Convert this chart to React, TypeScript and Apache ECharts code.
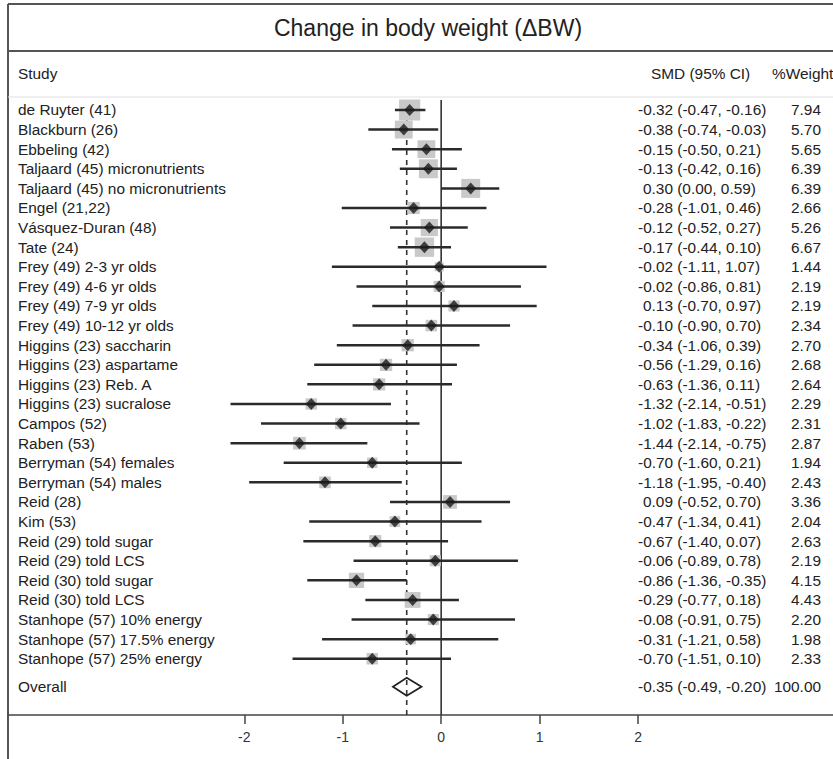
import React, { useEffect, useRef } from "react";
import * as echarts from "echarts";

const titleText = "Change in body weight (ΔBW)";
const headerStudy = "Study";
const headerSmd = "SMD (95% CI)";
const headerWeight = "%Weight";

const studyNames = [
  "de Ruyter (41)",
  "Blackburn (26)",
  "Ebbeling (42)",
  "Taljaard (45) micronutrients",
  "Taljaard (45) no micronutrients",
  "Engel (21,22)",
  "Vásquez-Duran (48)",
  "Tate (24)",
  "Frey (49) 2-3 yr olds",
  "Frey (49) 4-6 yr olds",
  "Frey (49) 7-9 yr olds",
  "Frey (49) 10-12 yr olds",
  "Higgins (23) saccharin",
  "Higgins (23) aspartame",
  "Higgins (23) Reb. A",
  "Higgins (23) sucralose",
  "Campos (52)",
  "Raben (53)",
  "Berryman (54) females",
  "Berryman (54) males",
  "Reid (28)",
  "Kim (53)",
  "Reid (29) told sugar",
  "Reid (29) told LCS",
  "Reid (30) told sugar",
  "Reid (30) told LCS",
  "Stanhope (57) 10% energy",
  "Stanhope (57) 17.5% energy",
  "Stanhope (57) 25% energy",
];
const smd = [
  -0.32, -0.38, -0.15, -0.13, 0.3, -0.28, -0.12, -0.17, -0.02, -0.02, 0.13, -0.1,
  -0.34, -0.56, -0.63, -1.32, -1.02, -1.44, -0.7, -1.18, 0.09, -0.47, -0.67, -0.06,
  -0.86, -0.29, -0.08, -0.31, -0.7,
];
const ciLow = [
  -0.47, -0.74, -0.5, -0.42, 0.0, -1.01, -0.52, -0.44, -1.11, -0.86, -0.7, -0.9,
  -1.06, -1.29, -1.36, -2.14, -1.83, -2.14, -1.6, -1.95, -0.52, -1.34, -1.4, -0.89,
  -1.36, -0.77, -0.91, -1.21, -1.51,
];
const ciHigh = [
  -0.16, -0.03, 0.21, 0.16, 0.59, 0.46, 0.27, 0.1, 1.07, 0.81, 0.97, 0.7,
  0.39, 0.16, 0.11, -0.51, -0.22, -0.75, 0.21, -0.4, 0.7, 0.41, 0.07, 0.78,
  -0.35, 0.18, 0.75, 0.58, 0.1,
];
const weights = [
  7.94, 5.7, 5.65, 6.39, 6.39, 2.66, 5.26, 6.67, 1.44, 2.19, 2.19, 2.34,
  2.7, 2.68, 2.64, 2.29, 2.31, 2.87, 1.94, 2.43, 3.36, 2.04, 2.63, 2.19,
  4.15, 4.43, 2.2, 1.98, 2.33,
];
const overallLabel = "Overall";
const overallSmd = -0.35;
const overallLow = -0.49;
const overallHigh = -0.2;
const overallWeight = 100.0;
const tickValues = [-2, -1, 0, 1, 2];

const FONT = "'Liberation Sans', Arial, Helvetica, sans-serif";
const ROW_FONT = 15.4;
const OVERALL_ROW = 29.43;
const Y_MIN = -0.51;
const Y_MAX = 30.87;

const fmt = (v: number) => v.toFixed(2);

export default function App() {
  const ref = useRef<HTMLDivElement>(null);

  useEffect(() => {
    if (!ref.current) return;
    const chart = echarts.init(ref.current, null, { renderer: "svg" });

    const rows = studyNames.map((n, i) => [smd[i], i, weights[i], ciLow[i], ciHigh[i]]);
    const textRows = studyNames.map((n, i) => ({
      value: [0, i],
      name: n,
      ci: `${fmt(smd[i])} (${fmt(ciLow[i])}, ${fmt(ciHigh[i])})`,
      pos: smd[i] >= 0,
      w: fmt(weights[i]),
    }));
    textRows.push({
      value: [0, OVERALL_ROW],
      name: overallLabel,
      ci: `${fmt(overallSmd)} (${fmt(overallLow)}, ${fmt(overallHigh)})`,
      pos: overallSmd >= 0,
      w: fmt(overallWeight),
    });

    const textEl = (text: string, x: number, y: number, align: string) => ({
      type: "text",
      style: {
        text,
        x,
        y,
        fill: "#222",
        fontSize: ROW_FONT,
        fontFamily: FONT,
        align,
        verticalAlign: "middle",
      },
    });

    chart.setOption({
      animation: false,
      backgroundColor: "#fff",
      grid: { left: 8, right: 0, top: 100, bottom: 44, containLabel: false },
      xAxis: {
        type: "value",
        min: -4.4,
        max: 3.98,
        axisLine: { show: true, onZero: false, lineStyle: { color: "#444", width: 1.5 } },
        axisTick: {
          show: true,
          customValues: tickValues,
          length: 9,
          lineStyle: { color: "#444", width: 1.5 },
        },
        axisLabel: {
          show: true,
          customValues: tickValues,
          color: "#333",
          fontSize: 14,
          fontFamily: FONT,
          margin: 15,
        },
        splitLine: { show: false },
      },
      yAxis: {
        type: "value",
        inverse: true,
        min: Y_MIN,
        max: Y_MAX,
        show: false,
        splitLine: { show: false },
      },
      graphic: [
        { type: "line", shape: { x1: 8, y1: 4, x2: 833, y2: 4 }, style: { stroke: "#555", lineWidth: 2 } },
        { type: "line", shape: { x1: 8, y1: 4, x2: 8, y2: 759 }, style: { stroke: "#555", lineWidth: 2 } },
        { type: "line", shape: { x1: 8, y1: 51, x2: 833, y2: 51 }, style: { stroke: "#555", lineWidth: 2 } },
        { type: "line", shape: { x1: 8, y1: 97, x2: 833, y2: 97 }, style: { stroke: "#e0e0e0", lineWidth: 1 } },
        {
          type: "text",
          style: {
            text: titleText,
            x: 428,
            y: 28,
            fill: "#222",
            fontSize: 23,
            fontFamily: FONT,
            align: "center",
            verticalAlign: "middle",
          },
        },
        {
          type: "text",
          style: { text: headerStudy, x: 18, y: 73, fill: "#222", fontSize: ROW_FONT, fontFamily: FONT, verticalAlign: "middle" },
        },
        {
          type: "text",
          style: { text: headerSmd, x: 651, y: 73, fill: "#222", fontSize: ROW_FONT, fontFamily: FONT, verticalAlign: "middle" },
        },
        {
          type: "text",
          style: { text: headerWeight, x: 772, y: 73, fill: "#222", fontSize: ROW_FONT, fontFamily: FONT, verticalAlign: "middle" },
        },
      ],
      series: [
        {
          type: "custom",
          name: "refLines",
          clip: false,
          z: 1,
          encode: { x: 0 },
          data: [
            [0, 0],
            [overallSmd, 1],
          ],
          renderItem: (params: any, api: any) => {
            const x = api.value(0);
            const dashed = api.value(1) === 1;
            const p1 = api.coord([x, Y_MIN]);
            const p2 = api.coord([x, Y_MAX]);
            return {
              type: "line",
              shape: { x1: p1[0], y1: p1[1], x2: p2[0], y2: p2[1] },
              style: { stroke: "#333", lineWidth: 1.6, lineDash: dashed ? [5, 5] : null },
            };
          },
        },
        {
          type: "custom",
          name: "weights",
          clip: false,
          z: 2,
          encode: { x: 0, y: 1 },
          data: rows,
          renderItem: (params: any, api: any) => {
            const c = api.coord([api.value(0), api.value(1)]);
            const s = 7.5 * Math.sqrt(api.value(2));
            return {
              type: "rect",
              shape: { x: c[0] - s / 2, y: c[1] - s / 2, width: s, height: s },
              style: { fill: "#c9c9c9" },
            };
          },
        },
        {
          type: "custom",
          name: "ci",
          clip: false,
          z: 3,
          encode: { x: 0, y: 1 },
          data: rows,
          renderItem: (params: any, api: any) => {
            const y = api.value(1);
            const p1 = api.coord([api.value(3), y]);
            const p2 = api.coord([api.value(4), y]);
            return {
              type: "line",
              shape: { x1: p1[0], y1: p1[1], x2: p2[0], y2: p2[1] },
              style: { stroke: "#2b2b2b", lineWidth: 2.5 },
            };
          },
        },
        {
          type: "scatter",
          name: "smd",
          z: 4,
          symbol: "diamond",
          symbolSize: [11, 12],
          itemStyle: { color: "#1a1a1a" },
          data: rows.map((r) => [r[0], r[1]]),
        },
        {
          type: "custom",
          name: "overall",
          clip: false,
          z: 4,
          encode: { x: 0, y: 1 },
          data: [[overallSmd, OVERALL_ROW, overallLow, overallHigh]],
          renderItem: (params: any, api: any) => {
            const y = api.value(1);
            const c = api.coord([api.value(0), y]);
            const l = api.coord([api.value(2), y]);
            const r = api.coord([api.value(3), y]);
            const h = 9;
            return {
              type: "polygon",
              shape: {
                points: [
                  [l[0], c[1]],
                  [c[0], c[1] - h],
                  [r[0], c[1]],
                  [c[0], c[1] + h],
                ],
              },
              style: { fill: "rgba(255,255,255,0)", stroke: "#222", lineWidth: 1.8 },
            };
          },
        },
        {
          type: "custom",
          name: "labels",
          clip: false,
          z: 5,
          encode: { x: 0, y: 1 },
          data: textRows,
          renderItem: (params: any, api: any) => {
            const item = textRows[params.dataIndex];
            const y = api.coord([0, api.value(1)])[1];
            return {
              type: "group",
              children: [
                textEl(item.name, 18, y, "left"),
                textEl(item.ci, item.pos ? 643 : 638, y, "left"),
                textEl(item.w, 821, y, "right"),
              ],
            };
          },
        },
      ],
    });

    return () => chart.dispose();
  }, []);

  return (
    <div
      ref={ref}
      style={{ position: "fixed", left: 0, top: 0, width: 833, height: 759, background: "#fff" }}
    />
  );
}
